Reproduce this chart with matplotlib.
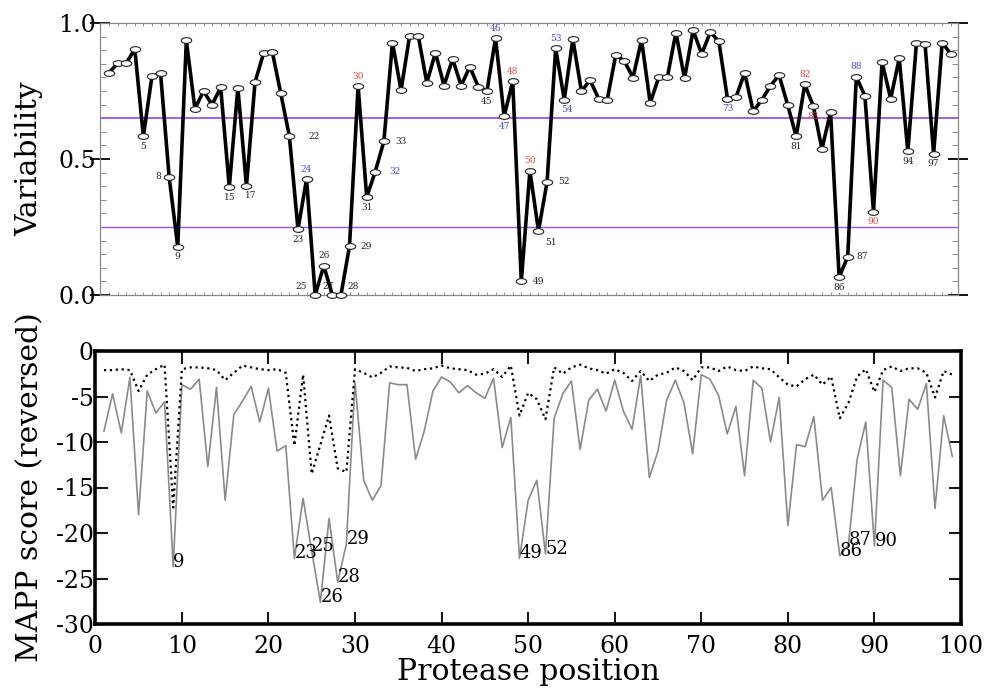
import numpy as np
import matplotlib
matplotlib.use("Agg")
import matplotlib.pyplot as plt
from matplotlib.path import Path
from matplotlib.transforms import Affine2D
from matplotlib.ticker import MultipleLocator

plt.rcParams['font.family'] = ['DejaVu Serif']
plt.rcParams['axes.unicode_minus'] = False

# ---------------- data ----------------
positions = list(range(1, 100))

variability = [0.817, 0.852, 0.852, 0.904, 0.583, 0.805, 0.815, 0.434, 0.178, 0.936,
               0.685, 0.749, 0.700, 0.763, 0.397, 0.762, 0.401, 0.783, 0.889, 0.895,
               0.741, 0.583, 0.242, 0.426, 0.0, 0.107, 0.0, 0.0, 0.18, 0.768,
               0.36, 0.454, 0.565, 0.928, 0.753, 0.953, 0.953, 0.78, 0.891, 0.770,
               0.867, 0.770, 0.839, 0.765, 0.750, 0.944, 0.657, 0.785, 0.05, 0.457,
               0.236, 0.416, 0.907, 0.718, 0.941, 0.749, 0.790, 0.722, 0.718, 0.883,
               0.860, 0.799, 0.938, 0.706, 0.80, 0.80, 0.965, 0.796, 0.973, 0.886,
               0.966, 0.932, 0.722, 0.728, 0.817, 0.675, 0.718, 0.768, 0.809, 0.700,
               0.583, 0.774, 0.694, 0.537, 0.673, 0.066, 0.14, 0.802, 0.732, 0.306,
               0.856, 0.722, 0.870, 0.528, 0.926, 0.924, 0.519, 0.928, 0.886]

variability_thresholds = [0.65, 0.25]

# labelled positions in the variability panel
var_labels = [5, 8, 9, 15, 17, 22, 23, 24, 25, 26, 27, 28, 29, 30, 31, 32, 33,
              45, 46, 47, 48, 49, 50, 51, 52, 53, 54, 73, 81, 82, 83, 86, 87,
              88, 90, 94, 97]
var_label_kind = {24: 'blue', 32: 'blue', 46: 'blue', 47: 'blue', 53: 'blue',
                  54: 'blue', 73: 'blue', 88: 'blue',
                  30: 'red', 48: 'red', 50: 'red', 82: 'red', 83: 'red', 90: 'red'}

mapp_score = [-8.8, -4.7, -9.0, -2.9, -18.0, -4.4, -6.8, -5.6, -23.7, -3.7,
              -4.2, -3.1, -12.7, -4.0, -16.4, -7.0, -5.5, -3.9, -7.8, -4.1,
              -11.0, -10.4, -22.8, -16.2, -22.0, -27.6, -18.4, -25.4, -21.2, -3.5,
              -14.2, -16.4, -14.8, -3.5, -3.7, -3.7, -11.9, -8.8, -4.4, -2.85,
              -3.4, -4.6, -3.8, -4.6, -5.2, -3.0, -10.6, -7.3, -22.8, -16.4,
              -14.2, -22.3, -7.4, -4.7, -3.3, -10.8, -5.4, -4.2, -6.6, -3.2,
              -6.6, -8.6, -2.7, -13.9, -11.0, -5.4, -3.2, -5.7, -11.3, -2.6,
              -3.1, -4.9, -9.1, -6.1, -13.7, -3.2, -4.1, -10.0, -5.1, -19.2,
              -10.3, -10.5, -7.2, -16.4, -15.0, -22.5, -21.3, -11.9, -7.8, -21.4,
              -3.2, -4.0, -13.7, -5.3, -6.4, -3.6, -17.3, -7.1, -11.6]

mapp_score_dotted = [-2.1, -2.1, -2.0, -2.1, -4.4, -2.6, -2.0, -1.5, -17.2, -2.0,
                     -1.8, -1.8, -1.9, -2.1, -3.2, -2.4, -1.6, -1.8, -2.0, -2.1,
                     -2.0, -2.4, -10.4, -2.6, -13.5, -10.3, -7.1, -12.9, -13.3, -2.0,
                     -2.4, -2.9, -2.4, -1.7, -1.8, -1.85, -2.2, -2.0, -1.9, -1.6,
                     -1.9, -2.0, -2.1, -2.6, -2.5, -2.0, -2.85, -1.6, -7.1, -4.6,
                     -5.3, -7.5, -1.8, -2.5, -1.8, -1.5, -1.9, -2.1, -2.5, -2.0,
                     -2.4, -3.3, -2.2, -3.3, -2.6, -2.4, -1.8, -2.2, -3.2, -1.8,
                     -1.8, -2.2, -1.7, -2.1, -2.2, -1.7, -1.9, -2.0, -2.9, -3.7,
                     -3.9, -3.1, -2.6, -3.7, -2.8, -7.4, -5.7, -2.8, -2.0, -4.5,
                     -2.1, -1.7, -2.2, -1.9, -1.9, -2.4, -5.1, -2.2, -2.6]

mapp_labels = [9, 23, 25, 26, 28, 29, 49, 52, 86, 87, 90]

x_ticks = list(range(0, 101, 10))
y_ticks_mapp = list(range(-30, 1, 5))
y_ticks_var = [0.0, 0.5, 1.0]

# ---------------- styles ----------------
kind_colors = {'black': '#222222', 'blue': '#4b4bd8', 'red': '#e04848'}
# label placement (offset in points, ha, va)
below = (0, -4, 'center', 'top')
above = (0, 4, 'center', 'bottom')
left = (-6, 0, 'right', 'center')
label_place = {8: left, 22: (14, 0, 'left', 'center'), 25: (-6, 3, 'right', 'bottom'),
               26: above, 27: (-3, 3, 'center', 'bottom'), 28: (5, 3, 'left', 'bottom'),
               29: (8, 0, 'left', 'center'), 30: above, 32: (10, 0, 'left', 'center'),
               33: (8, 0, 'left', 'center'), 24: above, 46: above, 48: above,
               49: (8, 0, 'left', 'center'), 50: above, 51: (5, -5, 'left', 'top'),
               52: (8, 0, 'left', 'center'), 53: above, 54: (2, -4, 'center', 'top'),
               82: above, 87: (6, 0, 'left', 'center'), 88: above, 17: (3, -4, 'center', 'top')}

fig = plt.figure(figsize=(9.91, 6.94), dpi=100)

# ---------------- top panel ----------------
ax1 = fig.add_axes([100 / 991, 1 - 295 / 694, 858 / 991, 272 / 694])
ell = Path.unit_circle().transformed(Affine2D().scale(1.0, 0.55))
ax1.plot(positions, variability, color='black', lw=2.6, zorder=3,
         marker=ell, markersize=7.5, markerfacecolor='white',
         markeredgecolor='#222222', markeredgewidth=0.8, clip_on=False)
for yv, lw in zip(variability_thresholds, [1.3, 1.0]):
    ax1.axhline(yv, color='#a050f0', lw=lw, zorder=2)
for p in var_labels:
    v = variability[p - 1]
    dx, dy, ha, va = label_place.get(p, below)
    ax1.annotate(str(p), (p, v), xytext=(dx, dy), textcoords='offset points',
                 ha=ha, va=va, fontsize=6.5,
                 color=kind_colors[var_label_kind.get(p, 'black')], zorder=4)
ax1.set_xlim(-0.05, 99.84)
ax1.set_ylim(0, 1)
ax1.set_xticks([])
ax1.xaxis.set_minor_locator(MultipleLocator(1))
ax1.tick_params(axis='x', which='minor', direction='in', length=2.5, width=0.6,
                color='#777777', top=True, bottom=True)
ax1.set_yticks(y_ticks_var)
ax1.set_yticklabels([f"{t:.1f}" for t in y_ticks_var])
ax1.yaxis.set_minor_locator(MultipleLocator(0.05))
ax1.tick_params(axis='y', which='major', direction='inout', length=14, width=1.3,
                labelsize=17, left=True, right=True, pad=-4)
ax1.tick_params(axis='y', which='minor', direction='in', length=4, width=0.6,
                color='#777777', left=True, right=True)
for s in ax1.spines.values():
    s.set_color('#888888')
    s.set_linewidth(0.9)
ax1.set_ylabel('Variability', fontsize=21.5)
ax1.yaxis.set_label_coords(-0.066, 0.5)

# ---------------- bottom panel ----------------
ax2 = fig.add_axes([95.3 / 991, 1 - 624 / 694, 865.7 / 991, 273 / 694])
ax2.plot(positions, mapp_score, color='#8a8a8a', lw=1.2)
ax2.plot(positions, mapp_score_dotted, color='black', lw=1.6, linestyle=':')
for p in mapp_labels:
    ax2.text(p, mapp_score[p - 1], str(p), fontsize=13)
ax2.set_xlim(0, 100)
ax2.set_ylim(-30, 0)
ax2.set_xticks(x_ticks)
ax2.set_yticks(y_ticks_mapp)
ax2.tick_params(direction='in', length=9, width=1.3, labelsize=17,
                top=True, right=True)
ax2.tick_params(axis='x', pad=8)
ax2.tick_params(axis='y', pad=1)
for s in ax2.spines.values():
    s.set_linewidth(2.6)
ax2.set_xlabel('Protease position', fontsize=21.5, labelpad=0)
ax2.set_ylabel('MAPP score (reversed)', fontsize=21.5)
ax2.yaxis.set_label_coords(-0.059, 0.5)

fig.savefig('out.png', dpi=100)
